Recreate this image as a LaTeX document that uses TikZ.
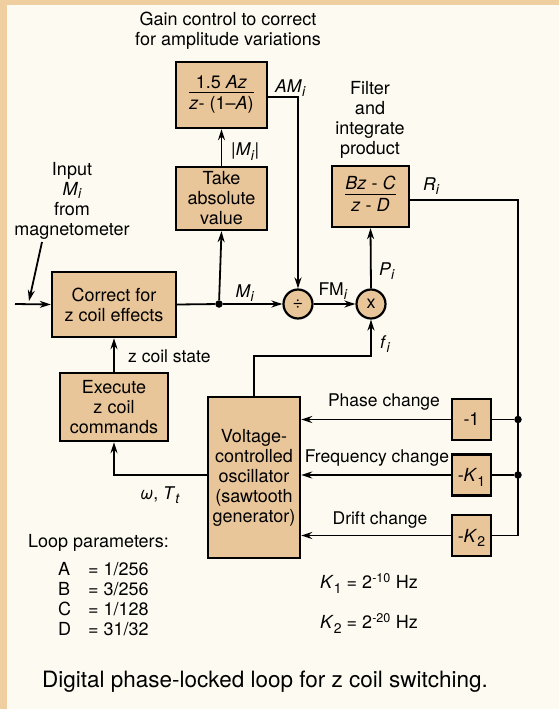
\documentclass[tikz,border=0pt]{standalone}
\usepackage{fontspec}
\setmainfont{TeX Gyre Heros}
\usetikzlibrary{arrows.meta, positioning, calc}

\definecolor{pagetan}{HTML}{EFCF9F}
\definecolor{panel}{HTML}{FDFBF1}
\definecolor{blockfill}{HTML}{E9C69A}

\newcommand{\low}[1]{\raisebox{-4.5pt}[0pt][0pt]{\fontsize{14}{14}\selectfont #1}}
\newcommand{\sig}[2]{\textit{#1}\low{\textit{#2}}}
\newcommand{\tfrac}[2]{\begin{tabular}{@{}c@{}}#1\\[-2pt]\hline\rule{0pt}{17pt}#2\end{tabular}}

\begin{document}
\begin{tikzpicture}[
    x=1pt, y=-1pt,
    >={Stealth[length=11pt, width=7pt]},
    font=\fontsize{18}{20}\selectfont,
    block/.style={draw, line width=2.4pt, fill=blockfill, inner sep=0pt,
                  align=center},
    opcircle/.style={draw, circle, line width=2.2pt, fill=blockfill,
                     inner sep=0pt, minimum size=29pt},
    gainblock/.style={block, minimum width=91pt, minimum height=66pt},
    smallblock/.style={block, minimum width=39pt, minimum height=41pt},
    junction/.style={circle, fill=black, inner sep=0pt, minimum size=7.5pt},
    wire/.style={line width=1.8pt},
    signal/.style={->, line width=1.8pt},
    siglabel/.style={font=\fontsize{17.5}{20}\selectfont, inner sep=0pt},
    note/.style={align=center, inner sep=0pt},
]

% ============================================================
% Page
% ============================================================
\useasboundingbox (0,0) rectangle (559,709);
\fill[pagetan] (0,0) rectangle (559,709);
\fill[panel] (7,5) rectangle (559,709);

% ============================================================
% Blocks (explicit coordinates)
% ============================================================
\node[gainblock] (gain) at (221.5,95) {\tfrac{1.5 \textit{Az}}{\textit{z}- (1--\textit{A})}};
\node[block, minimum width=91pt, minimum height=63pt] (absv) at (221.5,198.5)
    {Take\\absolute\\value};
\node[block, minimum width=77pt, minimum height=61pt] (filt) at (370.5,196.5)
    {\tfrac{\textit{Bz} - \textit{C}}{\textit{z} - \textit{D}}};
\node[block, minimum width=124pt, minimum height=65pt] (corr) at (114,304.5)
    {Correct for\\z coil effects};
\node[block, minimum width=108pt, minimum height=68pt] (exec) at (114,407)
    {Execute\\z coil\\commands};
\node[block, minimum width=92pt, minimum height=161pt] (vco) at (254,477.5)
    {Voltage-\\controlled\\oscillator\\(sawtooth\\generator)};
\node[smallblock] (neg1) at (471.5,419.5) {-1};
\node[smallblock] (negk1) at (471.5,475) {-\textit{K}\low{1}};
\node[smallblock] (negk2) at (471.5,535.5) {-\textit{K}\low{2}};

\node[opcircle] (div) at (298,304) {÷};
\node[opcircle] (mul) at (371,304) {x};

\node[junction] (mnode) at (219,304) {};
\node[junction] (phjn) at (518,419.5) {};
\node[junction] (frjn) at (518,475) {};

\coordinate (inleft) at (15,304);
\coordinate (intop) at (42,242);
\coordinate (inhit) at (29,301);

% ============================================================
% Forward path
% ============================================================
\draw[signal] (inleft) -- (corr.west);
\draw[signal] (intop) -- (inhit);
\draw[wire] (corr.east) -- (mnode);
\draw[signal] (mnode) -- (div.west);
\draw[signal] (mnode) -- (absv.south);
\draw[signal] (absv.north) -- (gain.south);
\draw[signal] (gain.east |- 0,97) -| (div.north);
\draw[signal] (div.east) -- (mul.west);
\draw[signal] (mul.north) -- (filt.south);

% ============================================================
% Loop back to the oscillator
% ============================================================
\draw[wire] (filt.east |- 0,200) -| (phjn.center) -- (frjn.center)
    |- (negk2.east);
\draw[wire] (phjn) -- (neg1.east);
\draw[wire] (frjn) -- (negk1.east);
\draw[signal] (neg1.west) -- (neg1.west -| vco.east);
\draw[signal] (negk1.west) -- (negk1.west -| vco.east);
\draw[signal] (negk2.west) -- (negk2.west -| vco.east);
\draw[signal] (vco.north) |- (mul.south |- 0,356) -- (mul.south);
\draw[signal] (vco.west |- 0,475) -| (exec.south);
\draw[signal] (exec.north) -- (corr.south);

% ============================================================
% Labels
% ============================================================
\node[note] (gaintitle) at (228,31) {Gain control to correct\\for amplitude variations};
\node[note] (filttitle) at (370,120) {Filter\\and\\integrate\\product};
\node[note] (inputlbl) at (72,201)
    {Input\\\textit{M}\raisebox{-2.5pt}{\fontsize{14}{14}\selectfont\itshape i}\\from\\magnetometer};

\node[siglabel, anchor=west] (amlbl) at (275,86) {\sig{AM}{i}};
\node[siglabel, anchor=west] (abslbl) at (231,151) {|\sig{M}{i}|};
\node[siglabel, anchor=west] (rlbl) at (423,184) {\sig{R}{i}};
\node[siglabel] (mlbl) at (245,291) {\sig{M}{i}};
\node[siglabel] (fmlbl) at (333,289) {FM\low{\textit{i}}};
\node[siglabel, anchor=west] (plbl) at (379,269) {\sig{P}{i}};
\node[siglabel, anchor=west] (flbl) at (380,342) {\sig{f}{i}};
\node[siglabel, anchor=west] (zlbl) at (128,356) {z coil state};
\node[siglabel] (wlbl) at (160,494) {\textit{ω}, \sig{T}{t}};
\node[siglabel] (phlbl) at (384,402) {Phase change};
\node[siglabel] (frlbl) at (377,458) {Frequency change};
\node[siglabel] (drlbl) at (380,520) {Drift change};

% ============================================================
% Parameters and caption
% ============================================================
\node[note, anchor=west] (looplbl) at (28,543) {Loop parameters:};
\node[note, anchor=north west, align=left] (params) at (58,562) {%
    \makebox[30pt][l]{A}= 1/256\\
    \makebox[30pt][l]{B}= 3/256\\
    \makebox[30pt][l]{C}= 1/128\\
    \makebox[30pt][l]{D}= 31/32};
\node[note, anchor=west] (k1lbl) at (320,581) {\textit{K}\low{1} = 2\textsuperscript{-10} Hz};
\node[note, anchor=west] (k2lbl) at (320,621) {\textit{K}\low{2} = 2\textsuperscript{-20} Hz};

\node[note, font=\fontsize{22.5}{26}\selectfont] (caption) at (265,682)
    {Digital phase-locked loop for z coil switching.};

\end{tikzpicture}
\end{document}
